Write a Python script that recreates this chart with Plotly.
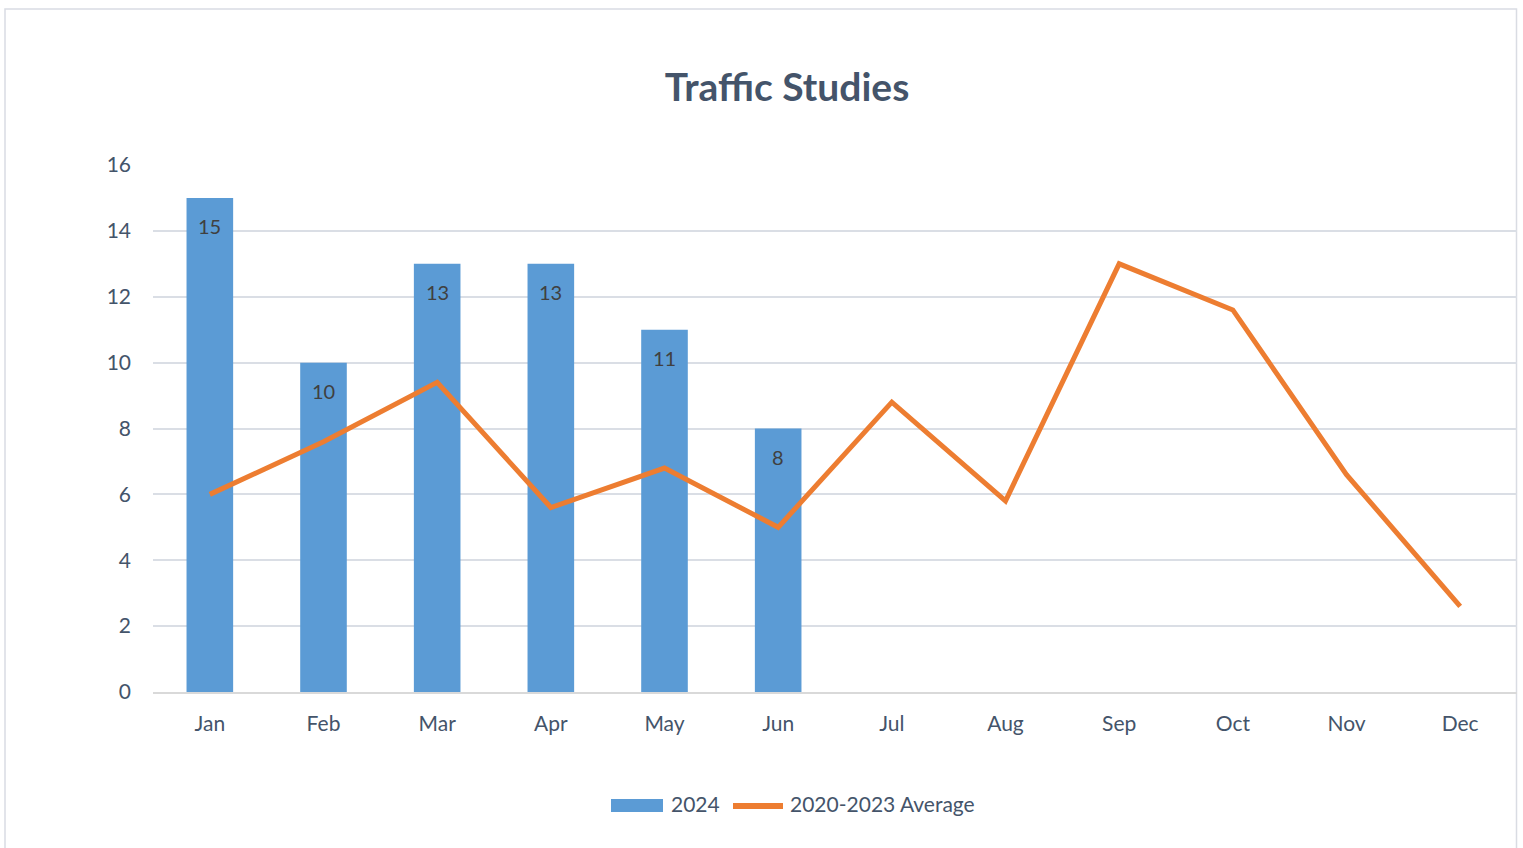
import plotly.graph_objects as go

months = ["Jan", "Feb", "Mar", "Apr", "May", "Jun", "Jul", "Aug", "Sep", "Oct", "Nov", "Dec"]
bar_months = ["Jan", "Feb", "Mar", "Apr", "May", "Jun"]
values_2024 = [15, 10, 13, 13, 11, 8]
avg_2020_2023 = [6.0, 7.6, 9.4, 5.6, 6.8, 5.0, 8.8, 5.8, 13.0, 11.6, 6.6, 2.6]

FONT = "Lato, 'Open Sans', sans-serif"
TEXT = "#44546A"
BLUE = "#5B9BD5"
ORANGE = "#ED7D31"

fig = go.Figure()
fig.add_trace(go.Bar(
    x=bar_months, y=values_2024, name="2024",
    marker=dict(color=BLUE, line=dict(width=0)),
))
fig.add_trace(go.Scatter(
    x=months, y=avg_2020_2023, name="2020-2023 Average", mode="lines",
    line=dict(color=ORANGE, width=5),
))

W, H = 1523, 848
L, R, T, B = 153, 6, 165, 156
pw, ph = W - L - R, H - T - B


def px_x(p):
    return (p - L) / pw


def px_y(p):
    return (H - B - p) / ph


annotations = [
    dict(x=m, y=v, xref="x", yref="y", text=str(v), showarrow=False,
         yshift=-28, font=dict(family=FONT, size=20, color="#404040"))
    for m, v in zip(bar_months, values_2024)
]
# custom legend (wide symbols like the reference)
annotations += [
    dict(x=px_x(669), y=px_y(804), xref="paper", yref="paper", text="2024",
         showarrow=False, xanchor="left", yanchor="middle",
         font=dict(family=FONT, size=21, color=TEXT)),
    dict(x=px_x(788), y=px_y(804), xref="paper", yref="paper", text="2020-2023 Average",
         showarrow=False, xanchor="left", yanchor="middle",
         font=dict(family=FONT, size=21, color=TEXT)),
]

shapes = [
    dict(type="rect", xref="paper", yref="paper",
         x0=px_x(5), x1=px_x(1516.5), y0=px_y(860), y1=px_y(9),
         line=dict(color="#D9DCE3", width=1.5), layer="below"),
    dict(type="rect", xref="paper", yref="paper",
         x0=px_x(611), x1=px_x(663), y0=px_y(812), y1=px_y(799),
         fillcolor=BLUE, line=dict(width=0)),
    dict(type="line", xref="paper", yref="paper",
         x0=px_x(733), x1=px_x(783), y0=px_y(806), y1=px_y(806),
         line=dict(color=ORANGE, width=6)),
]

fig.update_layout(
    width=W, height=H,
    margin=dict(l=L, r=R, t=T, b=B),
    paper_bgcolor="white", plot_bgcolor="white",
    title=dict(text="<b>Traffic Studies</b>", x=787 / W, xanchor="center",
               y=1 - 87 / H, yanchor="middle",
               font=dict(family=FONT, size=39, color=TEXT)),
    bargap=0.59,
    font=dict(family=FONT, size=21, color=TEXT),
    xaxis=dict(categoryorder="array", categoryarray=months, showgrid=False,
               showline=True, linecolor="#D9D9D9", linewidth=1.5, ticks="",
               ticklabelstandoff=12,
               tickfont=dict(size=21, color=TEXT), range=[-0.5, 11.5]),
    yaxis=dict(range=[0, 16], dtick=2, showgrid=True, gridcolor="#DADEE5",
               gridwidth=1.5, zeroline=False, ticks="", ticklabelstandoff=21,
               tickfont=dict(size=21, color=TEXT)),
    showlegend=False,
    annotations=annotations,
    shapes=shapes,
)

fig.write_html("out.html", config={"displayModeBar": False},
               post_script="document.body.style.margin='0';")
